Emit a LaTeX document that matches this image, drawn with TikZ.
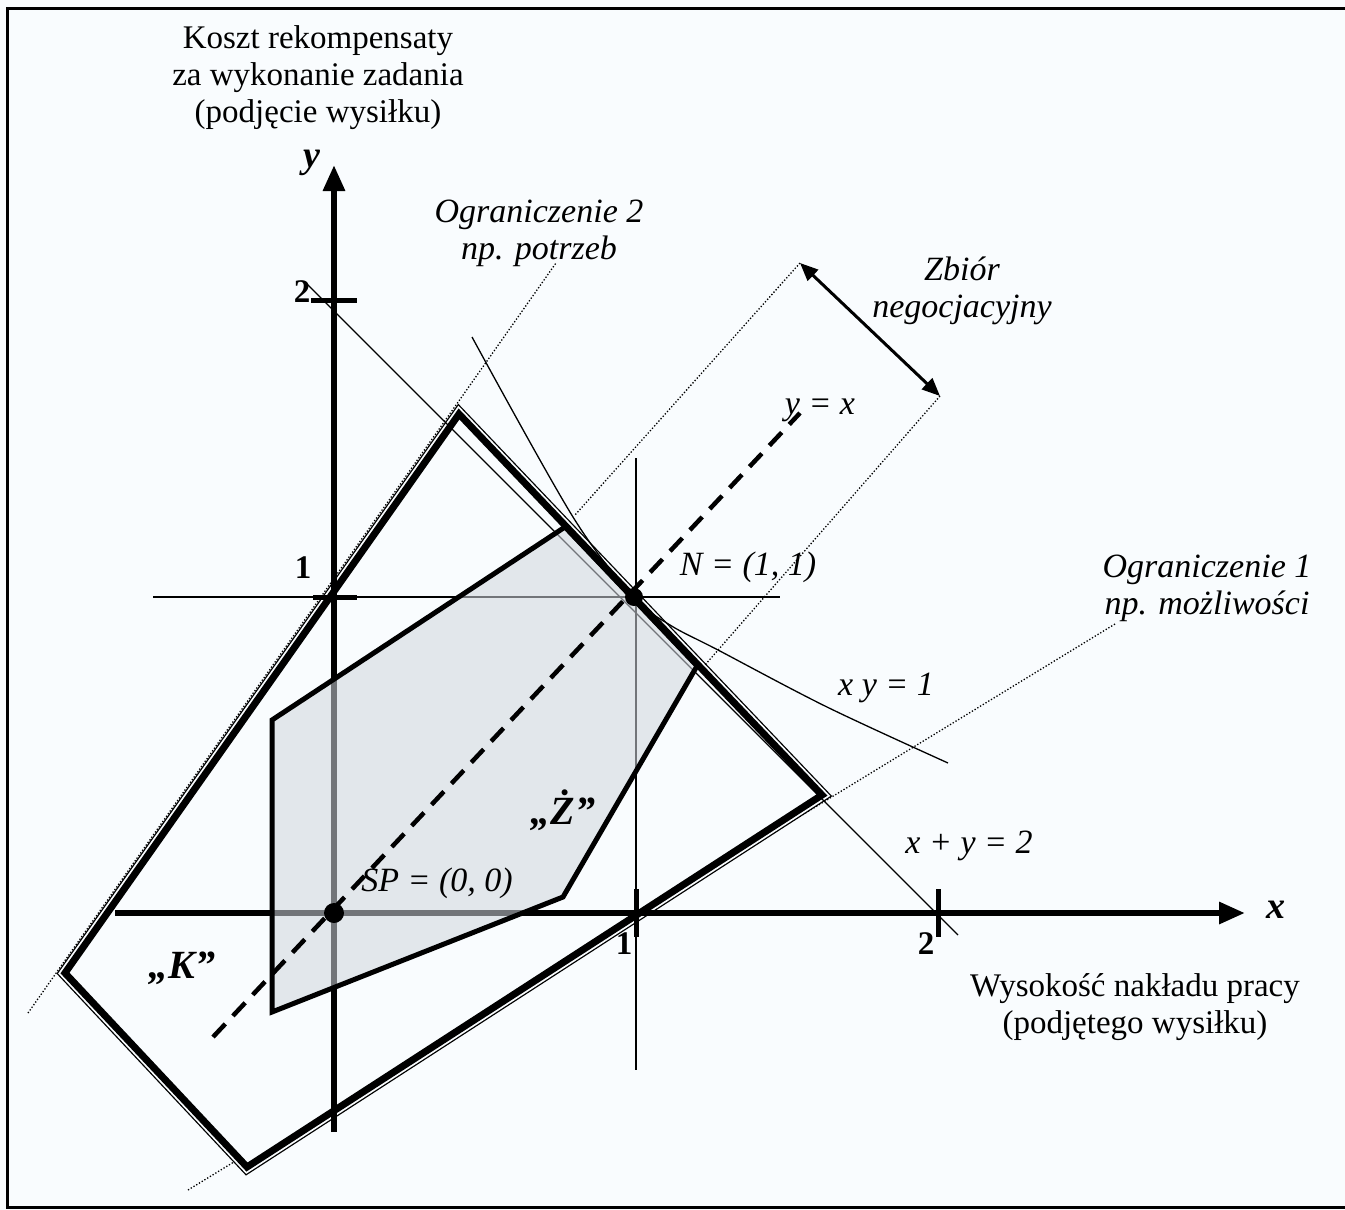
\documentclass[tikz,border=0pt]{standalone}
\usepackage{fontspec}
\setmainfont{Liberation Serif}
\usetikzlibrary{arrows.meta}
\definecolor{bgc}{RGB}{249,252,254}
\definecolor{zfill}{RGB}{208,214,221}
\begin{document}
\begin{tikzpicture}[x=1pt,y=-1pt,
  txt/.style={inner sep=0pt, font=\fontsize{33}{37}\selectfont, align=center},
  itxt/.style={inner sep=0pt, font=\fontsize{34}{37}\selectfont\itshape, align=center},
  bitxt/.style={inner sep=0pt, font=\fontsize{40}{42}\selectfont\bfseries\itshape},
  ticklbl/.style={inner sep=0pt, font=\fontsize{33}{34}\selectfont\bfseries},
  axisline/.style={line width=6pt, -{Triangle[length=26pt,width=21pt]}},
  tickmark/.style={line width=5pt},
  thinline/.style={line width=1.3pt},
  dotline/.style={line width=1.3pt, dash pattern=on 1.3pt off 1.9pt},
  kthick/.style={line width=7pt, line join=miter},
  zline/.style={line width=5pt, line join=miter},
  yxline/.style={line width=4.5pt, dash pattern=on 18pt off 11pt},
  twoarrow/.style={line width=3pt, {Triangle[length=18pt,width=15pt]}-{Triangle[length=18pt,width=15pt]}}
]
% canvas
\useasboundingbox (0,0) rectangle (1345,1210);
\fill[bgc] (0,0) rectangle (1345,1210);
\draw[line width=2.2pt] (1420,8.5) -- (7.5,8.5) -- (7.5,1207.5) -- (1420,1207.5);

% key points
\coordinate (O) at (334,913);
\coordinate (N) at (634,597);
\coordinate (KT) at (459,414);
\coordinate (KR) at (822,795);
\coordinate (KB) at (247,1167);
\coordinate (KL) at (65,973);

% constraint lines (dotted)
\coordinate (c2a) at (28,1013);
\coordinate (c2b) at (556,263);
\coordinate (c1a) at (188,1190);
\coordinate (c1b) at (1115,624);
\draw[dotline] (c2a) -- (c2b);
\draw[dotline] (c1a) -- (c1b);

% K polygon: thin outer line
\draw[line width=13.2pt, line join=miter] (KT) -- (KR) -- (KB) -- (KL) -- cycle;
\draw[bgc, line width=10.6pt, line join=miter] (KT) -- (KR) -- (KB) -- (KL) -- cycle;
\fill[bgc] (KT) -- (KR) -- (KB) -- (KL) -- cycle;

% thin guide lines
\coordinate (h1a) at (153,597);
\coordinate (h1b) at (780,597);
\coordinate (v1a) at (636,458);
\coordinate (v1b) at (636,1070);
\coordinate (s2a) at (307,284);
\coordinate (s2b) at (958,935);
\draw[thinline] (h1a) -- (h1b);
\draw[thinline] (v1a) -- (v1b);
\draw[thinline] (s2a) -- (s2b);
\draw[thinline] plot[smooth, tension=0.55] coordinates {(472,337) (573,517) (634,597) (670,625) (718,650) (827,707) (948,763)};

% axes
\coordinate (xa) at (115,913);
\coordinate (xb) at (1245,913);
\coordinate (ya) at (334,1132);
\coordinate (yb) at (334,165);
\draw[axisline] (xa) -- (xb);
\draw[axisline] (ya) -- (yb);

% ticks
\draw[tickmark] (311,300) -- (357,300);
\draw[tickmark] (313,597) -- (357,597);
\draw[tickmark] (636,889) -- (636,937);
\draw[tickmark] (938,889) -- (938,937);

% negotiation set
\coordinate (nA1) at (800,263);
\coordinate (nA2) at (575,515);
\coordinate (nB1) at (940,396);
\coordinate (nB2) at (705,665);
\draw[dotline] (nA1) -- (nA2);
\draw[dotline] (nB1) -- (nB2);
\draw[twoarrow] (nA1) -- (nB1);

% Z region
\coordinate (Z1) at (565,527);
\coordinate (Z2) at (697,666);
\coordinate (Z3) at (563,897);
\coordinate (Z4) at (272,1012);
\coordinate (Z5) at (272,720);
\fill[zfill, fill opacity=0.55] (Z1) -- (Z2) -- (Z3) -- (Z4) -- (Z5) -- cycle;
\draw[zline] (Z1) -- (Z2) -- (Z3) -- (Z4) -- (Z5) -- cycle;

% K thick line
\draw[kthick] (KT) -- (KR) -- (KB) -- (KL) -- cycle;

% y = x dashed
\coordinate (d1) at (213,1037);
\coordinate (d2) at (800,413);
\draw[yxline] (d1) -- (d2);

% points
\fill (O) circle (10);
\fill (N) circle (9);

% labels
\node[txt] (ylab) at (318,78) {Koszt rekompensaty\\za wykonanie zadania\\(podjęcie wysiłku)};
\node[bitxt, font=\fontsize{38}{40}\selectfont\bfseries\itshape] (yname) at (312,163) {y};
\node[bitxt, font=\fontsize{38}{40}\selectfont\bfseries\itshape] (xname) at (1276,910) {x};
\node[itxt] (ogr2) at (539,233) {Ograniczenie 2\\np. potrzeb};
\node[itxt] (zbior) at (962,291) {Zbiór\\negocjacyjny};
\node[itxt] (yx) at (820,410) {y = x};
\node[itxt] (Nlab) at (748,567) {N = (1, 1)};
\node[itxt] (ogr1) at (1207,588) {Ograniczenie 1\\np. możliwości};
\node[itxt] (xy1) at (886,688) {x y = 1};
\node[itxt] (xpy2) at (969,846) {x + y = 2};
\node[itxt] (SPlab) at (437,883) {SP = (0, 0)};
\node[bitxt] (Zlab) at (563,810) {„Ż”};
\node[bitxt] (Klab) at (182,968) {„K”};
\node[txt] (xlab) at (1135,1007) {Wysokość nakładu pracy\\(podjętego wysiłku)};
\node[ticklbl] (t2y) at (302,292) {2};
\node[ticklbl] (t1y) at (303,568) {1};
\node[ticklbl] (t1x) at (624,944) {1};
\node[ticklbl] (t2x) at (926,944) {2};
\end{tikzpicture}
\end{document}
